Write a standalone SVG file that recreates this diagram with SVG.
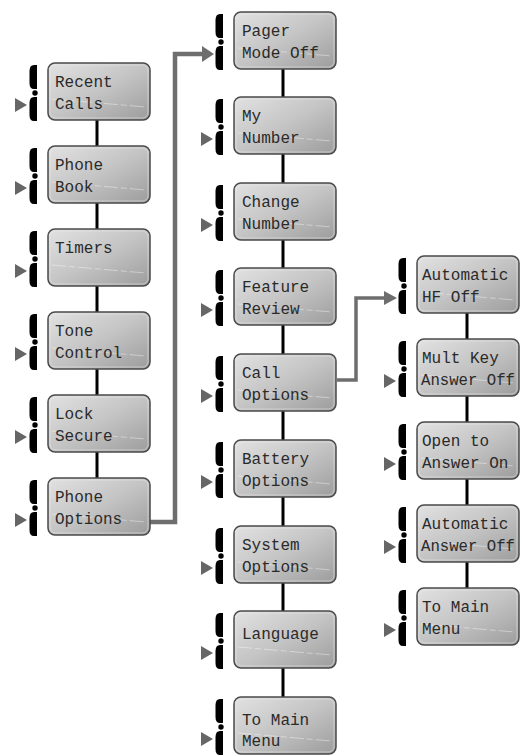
<svg xmlns="http://www.w3.org/2000/svg" xmlns:xlink="http://www.w3.org/1999/xlink" width="522" height="756" viewBox="0 0 522 756">
<defs>
<linearGradient id="lcd" x1="0" y1="0" x2="1" y2="1">
<stop offset="0" stop-color="#e2e2e2"/>
<stop offset="0.5" stop-color="#c4c4c4"/>
<stop offset="1" stop-color="#9c9c9c"/>
</linearGradient>
<g id="br">
<path d="M -11,2 L -14,2 Q -18.5,2 -18.5,8 L -18.5,20 Q -18.5,26 -14,26 L -11,26 Z" fill="#000"/>
<circle cx="-13" cy="30" r="2.7" fill="#000"/>
<path d="M -11,34 L -14,34 Q -18.5,34 -18.5,40 L -18.5,52 Q -18.5,58 -14,58 L -11,58 Z" fill="#000"/>
</g>
<path id="tri" d="M -33,35 L -21,42 L -33,49 Z" fill="#666"/>
<g id="box">
<rect x="0" y="0" width="102" height="57" rx="7" ry="7" fill="url(#lcd)" stroke="#4a4a4a" stroke-width="1.5"/>
<rect x="2" y="2" width="98" height="53" rx="5.5" ry="5.5" fill="none" stroke="#eeeeee" stroke-opacity="0.5" stroke-width="1"/>
<path d="M 4,36 L 98,44" stroke="#ffffff" stroke-opacity="0.4" stroke-width="1" stroke-dasharray="14 3 6 3"/>
</g>
</defs>
<style>
text { font-family: "Liberation Mono", "DejaVu Sans Mono", monospace; font-size: 16px; fill: #2a2a2a; }
.vl { stroke: #000; stroke-width: 3; fill: none; }
.thick { stroke: #6e6e6e; stroke-width: 4.5; fill: none; }
.thin { stroke: #6e6e6e; stroke-width: 3.5; fill: none; }
</style>

<g id="connectors">
<line class="vl" x1="97" y1="120" x2="97" y2="146"/>
<line class="vl" x1="97" y1="203" x2="97" y2="229"/>
<line class="vl" x1="97" y1="286" x2="97" y2="312"/>
<line class="vl" x1="97" y1="369" x2="97" y2="395"/>
<line class="vl" x1="97" y1="452" x2="97" y2="478"/>
<line class="vl" x1="283" y1="69" x2="283" y2="97"/>
<line class="vl" x1="283" y1="154" x2="283" y2="183"/>
<line class="vl" x1="283" y1="240" x2="283" y2="268"/>
<line class="vl" x1="283" y1="325" x2="283" y2="354"/>
<line class="vl" x1="283" y1="411" x2="283" y2="440"/>
<line class="vl" x1="283" y1="497" x2="283" y2="526"/>
<line class="vl" x1="283" y1="583" x2="283" y2="611"/>
<line class="vl" x1="283" y1="668" x2="283" y2="697"/>
<line class="vl" x1="467" y1="313" x2="467" y2="339"/>
<line class="vl" x1="467" y1="396" x2="467" y2="422"/>
<line class="vl" x1="467" y1="479" x2="467" y2="505"/>
<line class="vl" x1="467" y1="562" x2="467" y2="588"/>
<polyline class="thick" points="149,522 175,522 175,54 204,54"/>
<path d="M 202,46 L 214,54 L 202,62 Z" fill="#6e6e6e"/>
<polyline class="thin" points="337,380 356,380 356,298 386,298"/>
<path d="M 384,291 L 397,298 L 384,305 Z" fill="#6e6e6e"/>
</g>

<g id="n-recent-calls" transform="translate(48,63)"><use xlink:href="#box"/><use xlink:href="#br"/><use xlink:href="#tri"/><text x="7" y="24">Recent</text><text x="7" y="46">Calls</text></g>
<g id="n-phone-book" transform="translate(48,146)"><use xlink:href="#box"/><use xlink:href="#br"/><use xlink:href="#tri"/><text x="7" y="24">Phone</text><text x="7" y="46">Book</text></g>
<g id="n-timers" transform="translate(48,229)"><use xlink:href="#box"/><use xlink:href="#br"/><use xlink:href="#tri"/><text x="7" y="24">Timers</text></g>
<g id="n-tone-control" transform="translate(48,312)"><use xlink:href="#box"/><use xlink:href="#br"/><use xlink:href="#tri"/><text x="7" y="24">Tone</text><text x="7" y="46">Control</text></g>
<g id="n-lock-secure" transform="translate(48,395)"><use xlink:href="#box"/><use xlink:href="#br"/><use xlink:href="#tri"/><text x="7" y="24">Lock</text><text x="7" y="46">Secure</text></g>
<g id="n-phone-options" transform="translate(48,478)"><use xlink:href="#box"/><use xlink:href="#br"/><use xlink:href="#tri"/><text x="7" y="24">Phone</text><text x="7" y="46">Options</text></g>

<g id="n-pager-mode" transform="translate(234,12)"><use xlink:href="#box"/><use xlink:href="#br"/><text x="8" y="24">Pager</text><text x="8" y="46">Mode Off</text></g>
<g id="n-my-number" transform="translate(234,97)"><use xlink:href="#box"/><use xlink:href="#br"/><use xlink:href="#tri"/><text x="8" y="24">My</text><text x="8" y="46">Number</text></g>
<g id="n-change-number" transform="translate(234,183)"><use xlink:href="#box"/><use xlink:href="#br"/><use xlink:href="#tri"/><text x="8" y="24">Change</text><text x="8" y="46">Number</text></g>
<g id="n-feature-review" transform="translate(234,268)"><use xlink:href="#box"/><use xlink:href="#br"/><use xlink:href="#tri"/><text x="8" y="24">Feature</text><text x="8" y="46">Review</text></g>
<g id="n-call-options" transform="translate(234,354)"><use xlink:href="#box"/><use xlink:href="#br"/><use xlink:href="#tri"/><text x="8" y="24">Call</text><text x="8" y="46">Options</text></g>
<g id="n-battery-options" transform="translate(234,440)"><use xlink:href="#box"/><use xlink:href="#br"/><use xlink:href="#tri"/><text x="8" y="24">Battery</text><text x="8" y="46">Options</text></g>
<g id="n-system-options" transform="translate(234,526)"><use xlink:href="#box"/><use xlink:href="#br"/><use xlink:href="#tri"/><text x="8" y="24">System</text><text x="8" y="46">Options</text></g>
<g id="n-language" transform="translate(234,611)"><use xlink:href="#box"/><use xlink:href="#br"/><use xlink:href="#tri"/><text x="8" y="28">Language</text></g>
<g id="n-to-main-menu-1" transform="translate(234,697)"><use xlink:href="#box"/><use xlink:href="#br"/><use xlink:href="#tri"/><text x="8" y="28">To Main</text><text x="8" y="49">Menu</text></g>

<g id="n-automatic-hf" transform="translate(417,256)"><use xlink:href="#box"/><use xlink:href="#br"/><text x="5" y="24">Automatic</text><text x="5" y="46">HF Off</text></g>
<g id="n-mult-key" transform="translate(417,339)"><use xlink:href="#box"/><use xlink:href="#br"/><use xlink:href="#tri"/><text x="5" y="24">Mult Key</text><text x="4" y="46" textLength="94" lengthAdjust="spacingAndGlyphs">Answer Off</text></g>
<g id="n-open-to-answer" transform="translate(417,422)"><use xlink:href="#box"/><use xlink:href="#br"/><use xlink:href="#tri"/><text x="5" y="24">Open to</text><text x="5" y="46">Answer On</text></g>
<g id="n-automatic-answer" transform="translate(417,505)"><use xlink:href="#box"/><use xlink:href="#br"/><use xlink:href="#tri"/><text x="5" y="24">Automatic</text><text x="4" y="46" textLength="94" lengthAdjust="spacingAndGlyphs">Answer Off</text></g>
<g id="n-to-main-menu-2" transform="translate(417,588)"><use xlink:href="#box"/><use xlink:href="#br"/><use xlink:href="#tri"/><text x="5" y="24">To Main</text><text x="5" y="46">Menu</text></g>
</svg>
